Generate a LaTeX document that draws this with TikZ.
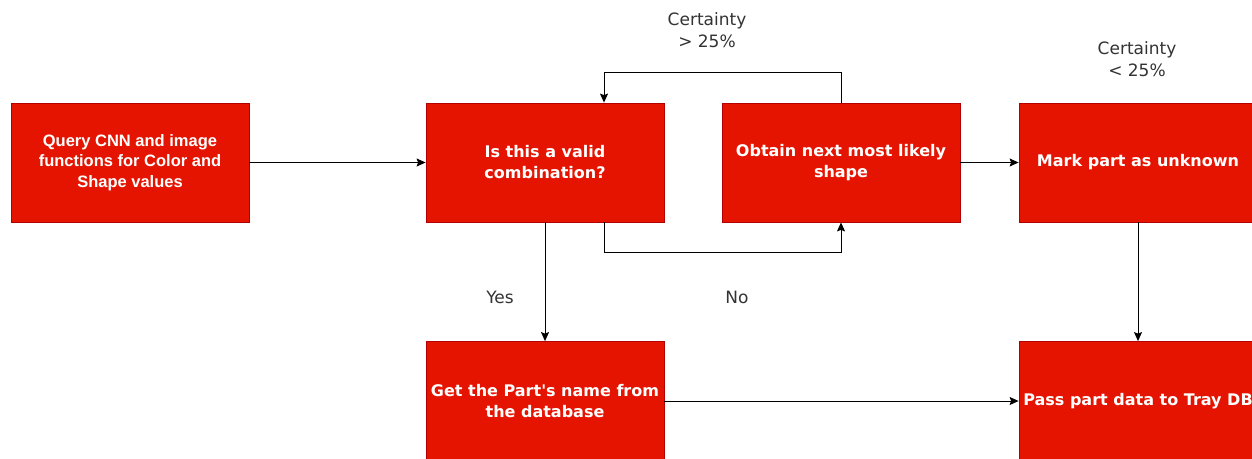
\documentclass[tikz,border=0pt]{standalone}
\usepackage{fontspec}
\usetikzlibrary{arrows.meta}
\newfontfamily\arialfont{Liberation Sans}
\newfontfamily\dvfont{DejaVu Sans}
\definecolor{boxfill}{HTML}{E51400}
\definecolor{boxline}{HTML}{B20000}
\definecolor{labelgray}{HTML}{333333}
\tikzset{
  stepbox/.style={draw=boxline, fill=boxfill, line width=0.8pt,
    minimum width=238pt, minimum height=119pt, inner sep=0pt,
    text width=234pt, align=flush center, text=white,
    font=\dvfont\bfseries\fontsize{16}{21}\selectfont},
  firstbox/.style={stepbox, font=\arialfont\bfseries\fontsize{16.5}{20.5}\selectfont},
  lbl/.style={text=labelgray, align=flush center, inner sep=0pt,
    font=\dvfont\fontsize{17}{22}\selectfont},
  arr/.style={draw=black, line width=1pt, -{Stealth[length=9pt,width=8pt,inset=1.5pt]}},
}
\begin{document}
\begin{tikzpicture}[x=1pt,y=-1pt]
  \useasboundingbox (0,0) rectangle (1252,458);
  \clip (0,0) rectangle (1252,458);
  \fill[white] (0,0) rectangle (1252,458);

  % process boxes
  \node[firstbox] (query) at (130,162.5) {Query CNN and image\\functions for Color and\\Shape values};
  \node[stepbox] (valid) at (545,162.5) {Is this a valid\\combination?};
  \node[stepbox] (next) at (841,162.5) {Obtain next most likely\\shape};
  \node[stepbox] (unknown) at (1138,162.5) {Mark part as unknown};
  \node[stepbox] (getname) at (545,401) {Get the Part's name from\\the database};
  \node[stepbox] (tray) at (1138,401) {Pass part data to Tray DB};

  % edge labels
  \node[lbl] (gtlbl) at (707,30) {Certainty\\> 25\%};
  \node[lbl] (ltlbl) at (1137,59) {Certainty\\< 25\%};
  \node[lbl] (yeslbl) at (500,297) {Yes};
  \node[lbl] (nolbl) at (737,297) {No};

  % connectors
  \draw[arr] (query.east) -- (valid.west);
  \draw[arr] (valid.south) -- (getname.north);
  \draw[arr] ([xshift=59pt]valid.south) -- ++(0,30) -| (next.south);
  \draw[arr] (next.north) -- ++(0,-30) -| ([xshift=59pt]valid.north);
  \draw[arr] (next.east) -- (unknown.west);
  \draw[arr] (unknown.south) -- (tray.north);
  \draw[arr] (getname.east) -- (tray.west);
\end{tikzpicture}
\end{document}
